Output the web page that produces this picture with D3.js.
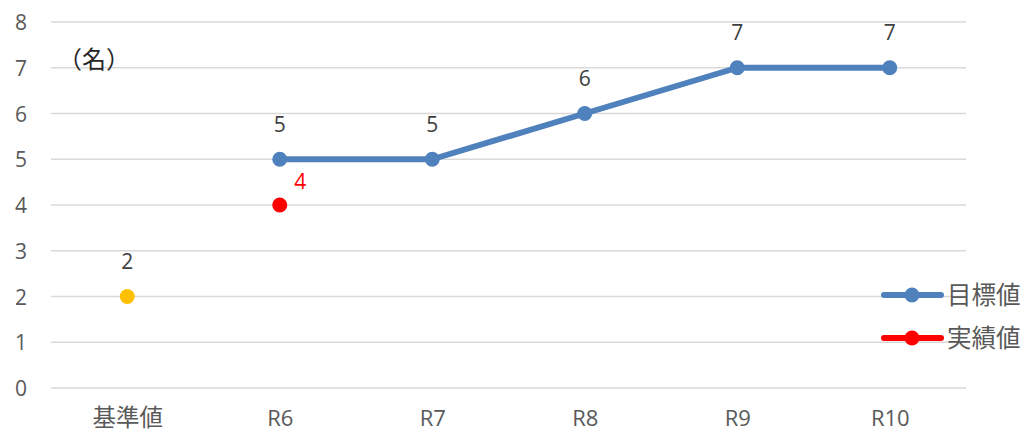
<!DOCTYPE html>
<html><head><meta charset="utf-8">
<script src="https://cdn.jsdelivr.net/npm/d3@7"></script>
<style>body{margin:0;background:#fff;}svg{display:block;font-family:"Noto Sans CJK JP","Noto Sans",sans-serif;}</style>
</head><body>
<svg id="chart" width="1025" height="433"></svg>
<script>
const categories = ["基準値","R6","R7","R8","R9","R10"];
const baseValue = [2, null, null, null, null, null];
const targetValues = [null, 5, 5, 6, 7, 7];
const actualValues = [null, 4, null, null, null, null];
const yTicks = [0,1,2,3,4,5,6,7,8];
const legendNames = ["目標値","実績値"];
const unitLabel = "（名）";

(function(){
const svg = d3.select("#chart");
const mLeft = 51, mRight = 966, mTop = 22, mBottom = 388;
const x = d3.scalePoint().domain(categories).range([mLeft, mRight]).padding(0.5);
const y = d3.scaleLinear().domain([0, 8]).range([mBottom, mTop]);
const latin = "'Open Sans','Noto Sans',sans-serif";
const cjk = "'Noto Sans CJK JP','Noto Sans',sans-serif";

// gridlines
svg.append("g").selectAll("line").data(yTicks).join("line")
  .attr("x1", mLeft).attr("x2", mRight)
  .attr("y1", d => y(d)).attr("y2", d => y(d))
  .attr("stroke", "#d9d9d9").attr("stroke-width", 1.5);

// y axis labels
const yAxis = d3.axisLeft(y).tickValues(yTicks).tickSize(0).tickPadding(0);
const yg = svg.append("g").attr("transform", `translate(27,0)`).call(yAxis);
yg.select(".domain").remove();
yg.selectAll("text").attr("fill", "#595959").style("font-size", "21px")
  .style("font-family", latin).attr("dy", "0.36em").attr("x", 0);

// x axis labels
const isCjk = d => /[^\x00-\x7f]/.test(d);
const xAxis = d3.axisBottom(x).tickSize(0).tickPadding(0);
const xg = svg.append("g").attr("transform", `translate(0,426)`).call(xAxis);
xg.select(".domain").remove();
xg.selectAll("text").attr("fill", "#595959").attr("y", 0)
  .style("font-size", d => isCjk(d) ? "23.5px" : "22px")
  .style("font-family", d => isCjk(d) ? cjk : latin)
  .attr("dy", 0);

// unit label
svg.append("text").attr("x", 58).attr("y", 68).text(unitLabel)
  .attr("fill", "#262626").style("font-size", "24px").style("font-family", cjk);

// target line
const tData = categories.map((c,i)=>({c, v: targetValues[i]})).filter(d => d.v != null);
svg.append("path").datum(tData)
  .attr("d", d3.line().x(d => x(d.c)).y(d => y(d.v)))
  .attr("fill", "none").attr("stroke", "#4f81bd").attr("stroke-width", 6).attr("stroke-linejoin","round");
svg.append("g").selectAll("circle").data(tData).join("circle")
  .attr("cx", d => x(d.c)).attr("cy", d => y(d.v)).attr("r", 7.5).attr("fill", "#4f81bd");
svg.append("g").selectAll("text").data(tData).join("text")
  .attr("x", d => x(d.c)).attr("y", d => y(d.v) - 27.5).attr("text-anchor","middle")
  .attr("fill", "#404040").style("font-size","21px")
  .style("font-family", latin).text(d => d.v);

// base point
const bData = categories.map((c,i)=>({c, v: baseValue[i]})).filter(d => d.v != null);
svg.append("g").selectAll("circle").data(bData).join("circle")
  .attr("cx", d => x(d.c)).attr("cy", d => y(d.v)).attr("r", 7.5).attr("fill", "#ffc000");
svg.append("g").selectAll("text").data(bData).join("text")
  .attr("x", d => x(d.c)).attr("y", d => y(d.v) - 27.5).attr("text-anchor","middle")
  .attr("fill", "#404040").style("font-size","21px")
  .style("font-family", latin).text(d => d.v);

// actual point
const aData = categories.map((c,i)=>({c, v: actualValues[i]})).filter(d => d.v != null);
svg.append("g").selectAll("circle").data(aData).join("circle")
  .attr("cx", d => x(d.c)).attr("cy", d => y(d.v)).attr("r", 7.5).attr("fill", "#ff0000");
svg.append("g").selectAll("text").data(aData).join("text")
  .attr("x", d => x(d.c) + 20.5).attr("y", d => y(d.v) - 16).attr("text-anchor","middle")
  .attr("fill", "#ff0000").style("font-size","21px")
  .style("font-family", latin).text(d => d.v);

// legend
const legColors = ["#4f81bd", "#ff0000"];
const lg = svg.append("g").selectAll("g").data(legendNames).join("g")
  .attr("transform", (d,i) => `translate(882,${295 + i*43})`);
lg.append("line").attr("x1",2).attr("x2",59).attr("y1",0).attr("y2",0)
  .attr("stroke",(d,i)=>legColors[i]).attr("stroke-width",6).attr("stroke-linecap","round");
lg.append("circle").attr("cx",30).attr("cy",0).attr("r",7.5).attr("fill",(d,i)=>legColors[i]);
lg.append("text").attr("x",65).attr("y",0).attr("dy","0.36em").text(d=>d)
  .attr("fill","#595959").style("font-size","24.5px").style("font-family", cjk);
})();
</script>
</body></html>
